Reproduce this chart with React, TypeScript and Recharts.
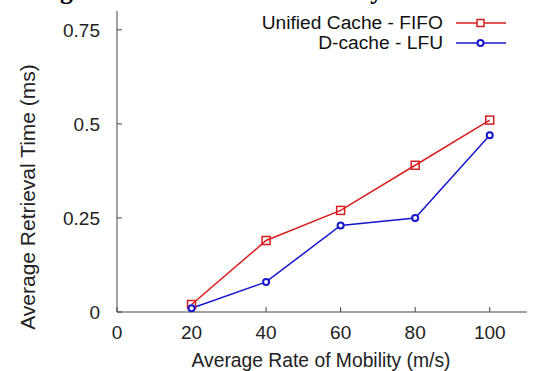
import { LineChart, Line, XAxis, YAxis, Label } from 'recharts';

// values
const mobility = [20, 40, 60, 80, 100];
const unifiedFifo = [0.02, 0.19, 0.27, 0.39, 0.51];
const dcacheLfu = [0.01, 0.08, 0.23, 0.25, 0.47];
const seriesNames = ['Unified Cache - FIFO', 'D-cache - LFU'];
const xTicks = [0, 20, 40, 60, 80, 100];
const yTicks = [0, 0.25, 0.5, 0.75];
const chartTitle = 'Average Retrieval Time vs Mobility';

const RED = '#d81e1e';
const BLUE = '#1616cc';
const AXIS = '#444';
const FONT = '"Liberation Sans", Arial, sans-serif';

const data = mobility.map((m, i) => ({ m, fifo: unifiedFifo[i], lfu: dcacheLfu[i] }));

const SquareDot = (props: any) => {
  const { cx, cy, index } = props;
  if (cx == null || cy == null) return <g key={index} />;
  return <rect key={index} x={cx - 4} y={cy - 4} width={8} height={8} fill="none" stroke={RED} strokeWidth={1.5} />;
};

const RoundDot = (props: any) => {
  const { cx, cy, index } = props;
  if (cx == null || cy == null) return <g key={index} />;
  return <circle key={index} cx={cx} cy={cy} r={3} fill="#fff" stroke={BLUE} strokeWidth={2} />;
};

const tickStyle = { fontFamily: FONT, fontSize: 19, fill: '#222' };

export default function App() {
  return (
    <div style={{ position: 'fixed', left: 0, top: 0, width: 535, height: 371, background: '#fff' }}>
      <LineChart width={535} height={371} data={data} margin={{ top: 11, right: 8, left: 0, bottom: 0 }}>
        <XAxis
          dataKey="m"
          type="number"
          domain={[0, 110]}
          ticks={xTicks}
          height={59}
          stroke={AXIS}
          tickSize={-5}
          tickMargin={19}
          tick={tickStyle}
        >
          <Label
            content={() => (
              <text x={321} y={366.5} textAnchor="middle" style={{ fontFamily: FONT, fontSize: 19.3, fill: '#222' }}>
                Average Rate of Mobility (m/s)
              </text>
            )}
          />
        </XAxis>
        <XAxis
          xAxisId="top"
          orientation="top"
          dataKey="m"
          type="number"
          domain={[0, 110]}
          ticks={xTicks}
          height={0}
          stroke={AXIS}
          tickSize={-5}
          tickFormatter={() => ''}
        />
        <YAxis
          type="number"
          domain={[0, 0.8]}
          ticks={yTicks}
          width={117}
          stroke={AXIS}
          tickSize={-5}
          tickMargin={22}
          tick={tickStyle}
        >
          <Label
            content={() => (
              <text
                x={27}
                y={197}
                transform="rotate(-90 27 197)"
                textAnchor="middle"
                dominantBaseline="central"
                style={{ fontFamily: FONT, fontSize: 21, fill: '#222' }}
              >
                Average Retrieval Time (ms)
              </text>
            )}
          />
        </YAxis>
        <YAxis
          yAxisId="right"
          orientation="right"
          type="number"
          domain={[0, 0.8]}
          ticks={yTicks}
          width={0}
          stroke={AXIS}
          tickSize={-5}
          tickFormatter={() => ''}
        />
        <Line dataKey="fifo" name={seriesNames[0]} stroke={RED} strokeWidth={1.5} dot={SquareDot} isAnimationActive={false} />
        <Line dataKey="lfu" name={seriesNames[1]} stroke={BLUE} strokeWidth={1.5} dot={RoundDot} isAnimationActive={false} />
      </LineChart>

      {/* title sits above the cropped edge, only the descenders show */}
      <svg width={535} height={10} style={{ position: 'absolute', left: 0, top: 0 }}>
        <text x={-5} y={-1} style={{ fontFamily: '"Liberation Serif", serif', fontSize: 25.6, fontWeight: 'bold', fill: '#000' }}>
          {chartTitle}
        </text>
      </svg>

      <div style={{ position: 'absolute', top: 13, right: 29, fontFamily: FONT, fontSize: 19.2, color: '#111' }}>
        {seriesNames.map((name, i) => (
          <div key={name} style={{ display: 'flex', alignItems: 'center', justifyContent: 'flex-end', height: 20 }}>
            <span style={{ marginRight: 13, lineHeight: '20px' }}>{name}</span>
            <svg width={50} height={12}>
              <line x1={0} y1={6} x2={50} y2={6} stroke={i === 0 ? RED : BLUE} strokeWidth={1.5} />
              {i === 0 ? (
                <rect x={21} y={2.5} width={7} height={7} fill="#fff" stroke={RED} strokeWidth={1.5} />
              ) : (
                <circle cx={24.5} cy={6} r={3} fill="#fff" stroke={BLUE} strokeWidth={2} />
              )}
            </svg>
          </div>
        ))}
      </div>
    </div>
  );
}
